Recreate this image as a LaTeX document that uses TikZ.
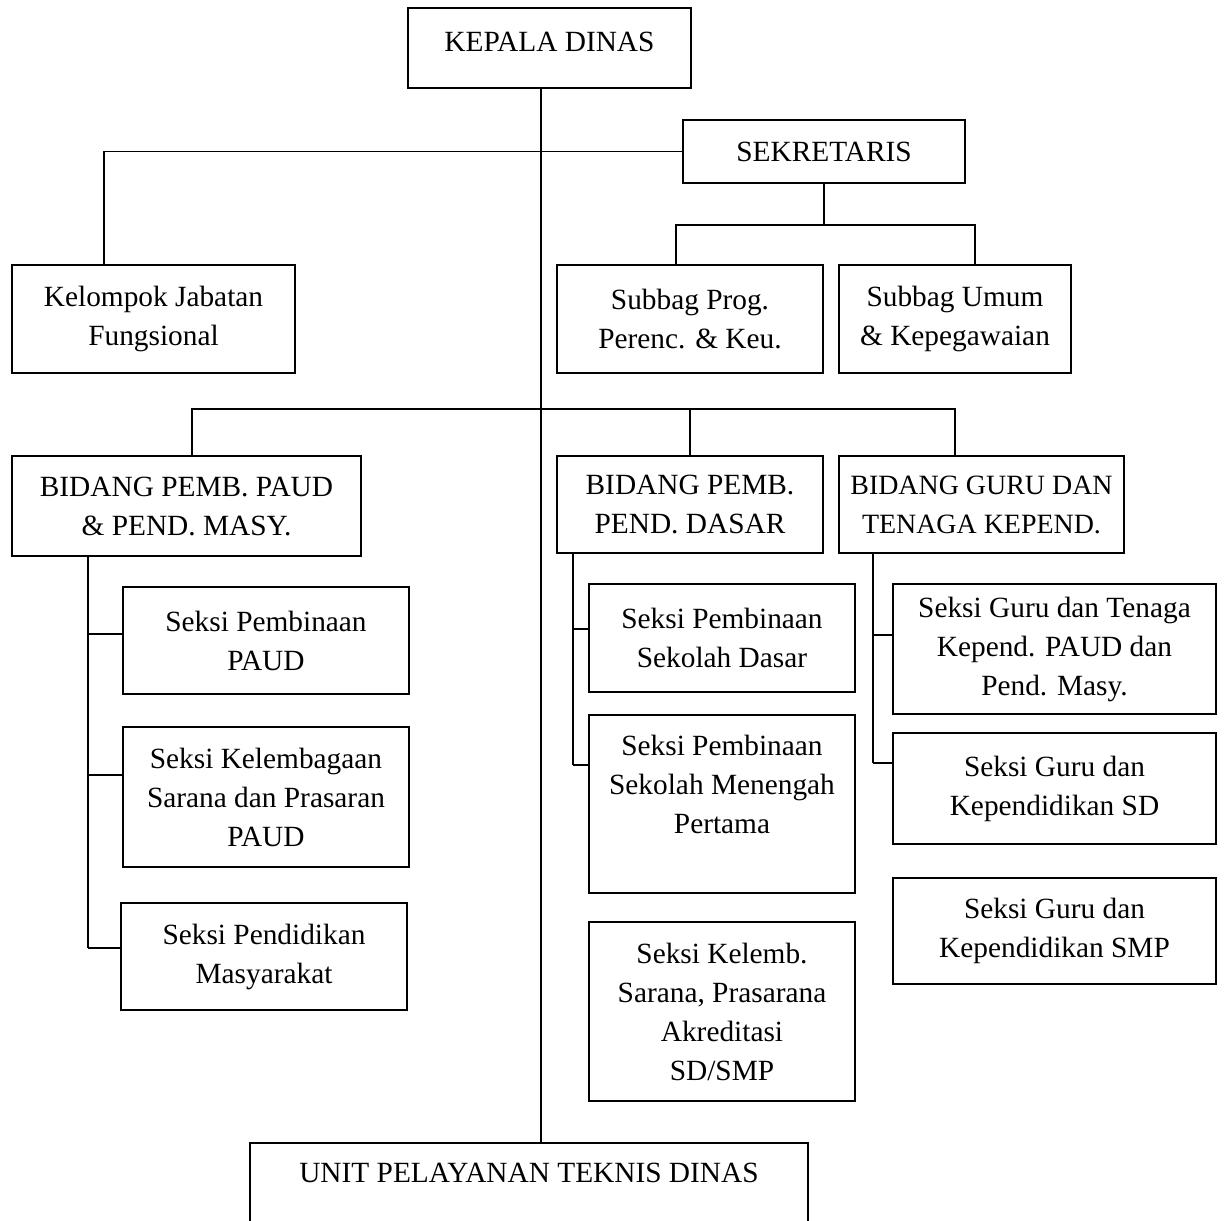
\documentclass[tikz,border=0pt]{standalone}
\usepackage{fontspec}
\setmainfont{Liberation Serif}
\usetikzlibrary{positioning}
\tikzset{
  unit/.style={draw, line width=1.1pt, align=center, inner sep=0pt,
    font=\fontsize{16.7}{22.2}\selectfont},
  link/.style={line width=1.1pt},
}

\begin{document}
\begin{tikzpicture}[x=0.02cm, y=-0.02cm]
  \clip (0,0) rectangle (1225,1221);

  % Kepala Dinas and Sekretaris
  \node[unit, align=none, text height=0.5cm, text depth=0.35cm, minimum width=5.66cm, minimum height=1.6cm] (kadis) at (549.5,48) {KEPALA DINAS};
  \node[unit, minimum width=5.64cm, minimum height=1.26cm] (sek) at (824,151.5) {SEKRETARIS};

  % Row 1
  \node[unit, minimum width=5.66cm, minimum height=2.16cm] (kjf) at (153.5,319) {Kelompok Jabatan\\Fungsional};
  \node[unit, minimum width=5.32cm, minimum height=2.16cm] (sprog) at (690,319) {Subbag Prog.\\Perenc. \& Keu.};
  \node[unit, minimum width=4.64cm, minimum height=2.16cm] (sumum) at (955,319) {Subbag Umum\\\& Kepegawaian};

  % Bidang
  \node[unit, minimum width=6.98cm, minimum height=2.0cm] (bpaud) at (186.5,506) {BIDANG PEMB. PAUD\\\& PEND. MASY.};
  \node[unit, minimum width=5.32cm, minimum height=1.94cm] (bdasar) at (690,504.5) {BIDANG PEMB.\\PEND. DASAR};
  \node[unit, font=\fontsize{15.9}{22.2}\selectfont, minimum width=5.7cm, minimum height=1.94cm] (bguru) at (981.5,504.5) {BIDANG GURU DAN\\TENAGA KEPEND.};

  % Seksi PAUD
  \node[unit, minimum width=5.72cm, minimum height=2.14cm] (paud1) at (266,640.5) {Seksi Pembinaan\\PAUD};
  \node[unit, minimum width=5.72cm, minimum height=2.8cm] (paud2) at (266,797) {Seksi Kelembagaan\\Sarana dan Prasaran\\PAUD};
  \node[unit, minimum width=5.72cm, minimum height=2.14cm] (paud3) at (264,956.5) {Seksi Pendidikan\\Masyarakat};

  % Seksi Dasar
  \node[unit, minimum width=5.32cm, minimum height=2.16cm] (sd) at (722,638) {Seksi Pembinaan\\Sekolah Dasar};
  \node[unit, minimum width=5.32cm, minimum height=3.56cm] (smp) at (722,804) {Seksi Pembinaan\\Sekolah Menengah\\Pertama\\ ~};
  \node[unit, minimum width=5.32cm, minimum height=3.58cm] (klb) at (722,1011.5) {Seksi Kelemb.\\Sarana, Prasarana\\Akreditasi\\SD/SMP};

  % Seksi Guru
  \node[unit, minimum width=6.46cm, minimum height=2.6cm] (guru1) at (1054.5,649) {Seksi Guru dan Tenaga\\Kepend. PAUD dan\\Pend. Masy.};
  \node[unit, minimum width=6.46cm, minimum height=2.22cm] (guru2) at (1054.5,788.5) {Seksi Guru dan\\Kependidikan SD};
  \node[unit, minimum width=6.46cm, minimum height=2.12cm] (guru3) at (1054.5,931) {Seksi Guru dan\\Kependidikan SMP};

  % UPT
  \node[unit, minimum width=11.16cm, minimum height=2.76cm] (upt) at (529,1212) {UNIT PELAYANAN TEKNIS DINAS\\ ~\\ ~};

  % Lines
  \coordinate (spine) at (541,0);
  \coordinate (kjfx) at (104,0);
  \coordinate (sbl) at (676,225);
  \coordinate (sbr) at (975,225);
  \coordinate (busl) at (192,409);
  \coordinate (busr) at (955,409);
  \draw[link] (kadis.south -| spine) -- (upt.north -| spine);
  \draw[link] (sek.west) -| (kjf.north -| kjfx);
  \draw[link] (sek.south) -- (sek.south |- sbl);
  \draw[link] (sprog.north -| sbl) |- (sbr) -- (sumum.north -| sbr);
  \draw[link] (bpaud.north -| busl) |- (busr) -- (bguru.north -| busr);
  \draw[link] (bdasar.north |- busl) -- (bdasar.north);

  % PAUD branches
  \coordinate (l1) at (88,634);
  \coordinate (l2) at (88,775);
  \coordinate (l3) at (88,948);
  \draw[link] (bpaud.south -| l1) -- (l3);
  \draw[link] (l1) -- (paud1.west |- l1);
  \draw[link] (l2) -- (paud2.west |- l2);
  \draw[link] (l3) -- (paud3.west |- l3);

  % Dasar branches
  \coordinate (m1) at (573,629);
  \coordinate (m2) at (573,765);
  \draw[link] (bdasar.south -| m1) -- (m2);
  \draw[link] (m1) -- (sd.west |- m1);
  \draw[link] (m2) -- (smp.west |- m2);

  % Guru branches
  \coordinate (r1) at (873,635);
  \coordinate (r2) at (873,763);
  \draw[link] (bguru.south -| r1) -- (r2);
  \draw[link] (r1) -- (guru1.west |- r1);
  \draw[link] (r2) -- (guru2.west |- r2);
\end{tikzpicture}
\end{document}
